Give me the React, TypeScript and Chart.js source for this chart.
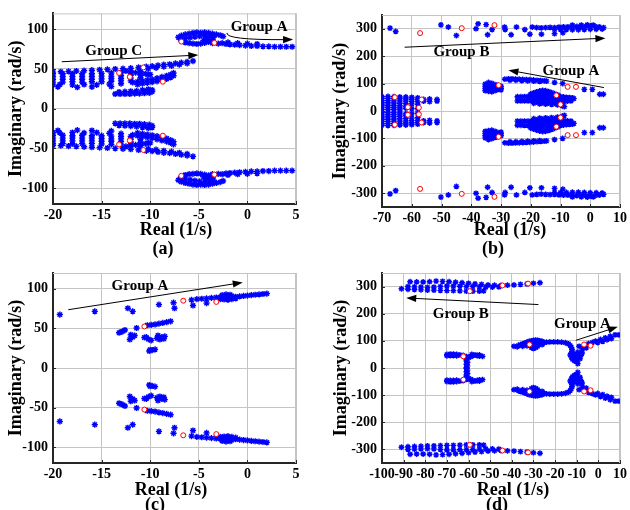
import React, { useEffect, useRef } from "react";
import { Chart, registerables } from "chart.js";

Chart.register(...registerables);

type Pt = [number, number];

// ---------------- Panel (a) : upper-half eigenvalues (conjugates added below)
const aStarsUpper: Pt[] = [
  // Group A loop + tail
  [-7.1, 90], [-6.8, 92], [-6.4, 93.5], [-6, 94.5], [-5.6, 95.5], [-5.2, 96], [-4.8, 95.5], [-4.4, 96], [-4, 95.5], [-3.6, 94.5], [-3.2, 93.5], [-2.8, 92.5], [-2.5, 91],
  [-6.9, 87.5], [-6.4, 88.5], [-5.9, 89.5], [-5.4, 90.5], [-4.9, 91.5], [-4.4, 92], [-3.9, 91], [-3.5, 90], [-4.2, 88], [-4.5, 86], [-4, 85], [-3.6, 87],
  [-6.4, 83.5], [-6, 82.5], [-5.6, 82], [-5.2, 81.5], [-4.8, 82], [-4.4, 83], [-4, 84], [-3.6, 82.5], [-3, 82], [-2.6, 82.5], [-2.2, 81.5], [-1.8, 81], [-1.3, 80.5], [-0.8, 80], [-0.2, 79.5], [0.4, 79], [1, 79], [1.6, 78.5], [2.2, 78.5], [2.8, 78], [3.4, 78], [4, 78], [4.6, 78],
  [-2, 83.5], [-1, 82.5], [0, 82], [1, 81.5],
  // Group C line
  [-20, 46], [-19.2, 46.5], [-18.4, 47], [-17.6, 47.5], [-16.8, 48], [-16, 48.5], [-15.2, 49], [-14.4, 49.5], [-13.6, 50], [-12.8, 50.5], [-12, 51], [-11.2, 52], [-10.4, 53], [-9.8, 53.5], [-9.2, 54.5], [-8.6, 55.5], [-8, 56], [-7.4, 57], [-6.8, 58], [-6.2, 59], [-5.6, 60],
  [-11, 49.5], [-10.2, 50.5], [-9.4, 51.5], [-8.6, 53], [-7.8, 54], [-7, 55.5], [-6.2, 57],
  // dense cluster
  [-20, 44], [-19, 44], [-18, 44], [-17, 44], [-16, 44], [-15, 44.5], [-14, 45], [-13, 45.5], [-12, 46], [-11, 46.5],
  [-20, 40.5], [-19, 40.5], [-18, 40.5], [-17, 40.5], [-16, 40.5], [-15, 41], [-14, 41], [-13, 41.5], [-12, 42], [-11, 42.5], [-10.2, 43],
  [-20, 37], [-19, 37], [-18, 37], [-17, 37], [-16, 37], [-15, 37.5], [-14, 38], [-13, 38], [-12, 38.5], [-11, 39],
  [-20, 33.5], [-19, 33.5], [-18, 34], [-17, 33.5], [-16, 34], [-15, 34], [-14, 34.5], [-13, 35], [-12, 35],
  [-20, 30], [-19.3, 30.5], [-18, 30], [-16.8, 30.5], [-15.5, 30], [-14.2, 31], [-13, 31.5],
  [-19.5, 27.5], [-17.5, 27], [-16, 27.5], [-14, 28],
  // branch
  [-11.8, 33], [-11.3, 34], [-10.8, 35], [-10.3, 36], [-9.8, 37], [-9.3, 38.5], [-8.8, 40], [-8.3, 41.5], [-7.9, 43], [-7.6, 45],
  [-11.3, 30.5], [-10.8, 31.5], [-10.3, 32.5], [-9.8, 33.5], [-9.3, 34.5], [-8.8, 36], [-8.3, 37.5], [-7.9, 39.5], [-7.6, 41.5],
  [-12.5, 47.5], [-12, 46.5], [-11.5, 45.5], [-11, 45], [-10.5, 44], [-10, 43],
  // lower cluster
  [-13.6, 18.5], [-13.1, 18.5], [-12.6, 18.5], [-12.1, 18.5], [-11.6, 19], [-11.1, 19], [-10.6, 19.5], [-10.1, 20], [-9.8, 21.5], [-9.8, 23.5], [-10.2, 24.5], [-10.8, 23.5], [-11.4, 22.5], [-12, 22], [-12.6, 21.5], [-13.2, 21], [-11.5, 20.5], [-10.5, 22],
];
const aCirclesUpper: Pt[] = [[-6.8, 84.5], [-3.4, 83], [-13.2, 45], [-10.7, 52], [-12.1, 40], [-8.7, 34]];
const aXTicks = [-20, -15, -10, -5, 0, 5];
const aYTicks = [-100, -50, 0, 50, 100];

// ---------------- Panel (b)
const bStarsUpper: Pt[] = [
  // top band
  [-67.3, 302], [-65.4, 290], [-50.2, 314], [-47.7, 306], [-45, 275], [-38.4, 300], [-37.7, 318], [-35, 315], [-34.5, 278], [-33, 297], [-28.8, 306], [-28.6, 297], [-26.6, 278], [-24.8, 306], [-22, 297], [-20.3, 280], [-19.5, 306], [-16.4, 280], [-12, 282], [-9.2, 285],
  [-18, 304], [-16.5, 303], [-15, 304], [-13.5, 305], [-12, 304], [-10.5, 306], [-9, 307], [-7.5, 307], [-6, 308], [-4.5, 308], [-3, 308], [-1.5, 309], [0, 310], [1.5, 309], [3, 307], [4.5, 304],
  [-12, 298], [-10, 297], [-8, 297], [-6, 296], [-4, 296], [-2, 297], [0, 298], [2, 298], [4, 299],
  [-6, 313], [-3, 313], [-1, 314], [1, 313],
  // group A arc
  [-28.7, 116], [-27.5, 117], [-26.3, 117], [-25.1, 116.5], [-23.9, 116], [-22.7, 115], [-21.5, 114.5], [-20.3, 114], [-19.1, 113], [-17.9, 112], [-16.7, 111], [-15.5, 110], [-14.7, 109], [-12, 104], [-9.3, 100], [-2, 79], [0.7, 79], [3.2, 61], [4.4, 61],
  [-27, 112], [-25, 112], [-23, 111], [-21, 110], [-19, 109], [-17, 108],
  // block near -32
  [-35.3, 98], [-35.3, 90], [-35.3, 82], [-35.3, 74],
  [-34.2, 104], [-34.2, 96], [-34.2, 88], [-34.2, 80], [-34.2, 72],
  [-33.1, 101], [-33.1, 93], [-33.1, 85], [-33.1, 77], [-33.1, 70],
  [-32, 96], [-32, 88], [-32, 80], [-32, 74],
  [-31, 93], [-31, 86], [-31, 79],
  [-30, 90], [-30, 83], [-30, 77],
  // middle blob
  [-24.5, 52], [-23.3, 52], [-22.1, 52.5], [-20.9, 53], [-19.7, 53], [-18.5, 53.5], [-17.3, 54], [-16.1, 54], [-14.9, 54], [-13.7, 54], [-12.5, 54],
  [-24.5, 37], [-23.3, 37], [-22.1, 37], [-20.9, 37], [-19.7, 37], [-18.5, 37], [-17.3, 37], [-16.1, 36], [-14.9, 36], [-13.7, 36], [-12.5, 35], [-11.3, 34], [-10.1, 34], [-8.9, 35], [-7.7, 36], [-6.5, 37],
  [-11, 55], [-10, 53], [-9, 51], [-8, 50], [-7, 49], [-6, 48], [-5.5, 45], [-10.5, 46], [-9.5, 45], [-8.5, 44], [-7.5, 43], [-6.5, 42], [-9, 40], [-7, 40],
  [-20, 45], [-19, 45], [-18, 46], [-17, 46], [-16, 46], [-15, 46], [-14, 46], [-13, 46], [-12, 46],
  [-20, 62], [-19, 66], [-18, 70], [-17, 73], [-16, 75], [-15, 74], [-14, 71], [-13, 67], [-12, 63], [-11, 59],
  [-19, 58], [-17, 62], [-15, 64], [-13, 60], [-18, 55], [-14, 56], [-16, 58],
  [-19, 28], [-17, 26], [-15, 25], [-13, 24], [-11, 22], [-18, 32], [-16, 30], [-14, 29], [-12, 28], [-10, 26], [-9.5, 20], [-8.7, 16],
  // left cluster
  [-70, 52], [-68, 53], [-66, 52], [-64, 51], [-62, 51], [-60, 50], [-58, 48],
  [-70, 45], [-68, 45], [-66, 45], [-64, 45], [-62, 44], [-60, 43], [-58, 42], [-56, 42], [-54, 44], [-51.5, 42],
  [-70, 38], [-68, 38], [-66, 37], [-64, 37], [-62, 36], [-60, 35], [-58, 34], [-56, 36], [-54, 34], [-51.5, 36],
  [-70, 30], [-68, 30], [-66, 29], [-64, 28], [-62, 27], [-60, 26], [-58, 24],
  [-70, 22], [-68, 21], [-66, 20], [-64, 19], [-62, 17],
  [-70, 14], [-68, 13], [-66, 12], [-64, 11], [-62, 10], [-60, 9], [-58, 8],
  [-70, 6], [-68, 5], [-66, 5], [-64, 4],
];
const bCirclesUpper: Pt[] = [
  [-57.2, 284], [-43.2, 302], [-32.2, 313],
  [-11.4, 57], [-10, 24], [-30.8, 94], [-7.6, 88], [-4.8, 88],
  [-56.7, 42], [-57.6, 12], [-61.3, 14], [-65.7, 50],
];
const bXTicks = [-70, -60, -50, -40, -30, -20, -10, 0, 10];
const bYTicks = [-300, -200, -100, 0, 100, 200, 300];

// ---------------- Panel (c)
const cStarsUpper: Pt[] = [
  [-19.3, 67.5], [-15.7, 71.5], [-12.3, 75.5], [-11.8, 71.5], [-9.1, 80], [-7.6, 82.5], [-7.5, 75.5], [-5.75, 86], [-5.6, 79], [-4.2, 82],
  [-5.2, 87], [-4.7, 87.5], [-4.2, 88], [-3.7, 88.5], [-3.2, 89], [-2.8, 89.5], [-2.4, 90], [-2, 90.5], [-1.6, 91], [-1.2, 90], [-0.8, 90.5], [-0.4, 91], [0, 91.5], [0.4, 92], [0.8, 92.5], [1.2, 93], [1.6, 93.5], [2, 94],
  [-2.6, 92], [-2.2, 93], [-1.8, 92.5], [-2.4, 86.5], [-2, 86], [-1.6, 87], [-1.2, 88], [-2.8, 87],
  [-10.3, 54], [-9.9, 54.5], [-9.5, 55], [-9.1, 56], [-8.7, 57], [-8.3, 58], [-7.9, 59],
  [-13.2, 44.5], [-13, 45.5], [-12.8, 46.5], [-12.6, 48], [-11.4, 50.5], [-12, 42], [-11.8, 39], [-12.1, 36], [-11.6, 41], [-11.9, 40],
  [-10.4, 39], [-10.6, 38.5], [-10.2, 36.5], [-9.9, 35], [-9.2, 41], [-8.8, 39], [-8.6, 37], [-9, 36], [-8.5, 40], [-9.3, 37.5],
  [-10.1, 21.5], [-9.8, 22.5], [-9.5, 23.5], [-10, 23],
];
const cCirclesUpper: Pt[] = [[-10.6, 52.5], [-6.6, 85], [-3.2, 83.5]];
const cXTicks = [-20, -15, -10, -5, 0, 5];
const cYTicks = [-100, -50, 0, 50, 100];

// ---------------- Panel (d)
const dStarsUpper: Pt[] = [
  // group B band
  [-87, 318], [-84, 317], [-81, 317], [-78, 318], [-75, 320], [-72, 319], [-69, 318], [-66, 316], [-63, 314], [-60, 312], [-57, 310], [-54, 308], [-51, 306], [-48, 305], [-45, 304], [-42, 305], [-39, 306], [-36, 308], [-33, 310], [-30, 312], [-27, 314],
  [-91, 292], [-88, 290], [-85, 289], [-82, 288], [-79, 287], [-76, 287], [-73, 286], [-70, 285], [-67, 285], [-64, 284], [-61, 283], [-58, 283], [-55, 283], [-53, 284],
  [-88, 300], [-85, 299], [-82, 298], [-79, 297], [-76, 298], [-73, 300], [-70, 302], [-67, 302], [-64, 301], [-61, 300], [-58, 300], [-55, 299], [-52, 298], [-49, 298], [-46, 299],
  // middle cluster
  [-70, 50], [-68.5, 51], [-67, 51], [-65.5, 50], [-64, 48], [-62.5, 46], [-61, 42], [-60, 38], [-59, 42], [-58, 46], [-57, 48], [-56, 46], [-55, 44], [-53.5, 43],
  [-70, 45], [-68.5, 46], [-67, 46], [-65.5, 45], [-58.5, 50], [-55, 48],
  [-61, 32], [-61, 26], [-60.5, 20], [-61, 14], [-60.5, 8], [-61, 2],
  // group A
  [-39, 80], [-37.5, 78], [-37, 83], [-36, 86], [-35, 89], [-34, 92], [-33, 95], [-32, 98], [-31, 100], [-30, 102], [-29, 103], [-28, 102], [-27, 100], [-26, 98], [-35, 80], [-33, 82], [-31, 84], [-30, 92], [-29, 86], [-28, 80], [-29, 75], [-30, 72], [-31, 76], [-27, 91], [-26, 86], [-25, 93], [-32, 88], [-28, 95],
  [-24, 95], [-22.4, 96], [-20.6, 96], [-18.8, 96], [-17, 95], [-15.2, 93],
  [-13.8, 89], [-13, 83], [-12.5, 76], [-12.2, 69], [-12, 62], [-12.5, 55], [-13, 48], [-12.5, 41], [-11.5, 35], [-10.5, 29], [-10, 22], [-9.5, 16], [-11, 26], [-12, 32], [-9, 40], [-8, 47], [-7.5, 55], [-8.5, 34], [-10, 45], [-11, 50], [-9.5, 58], [-10.5, 38],
  [-8.9, 80], [-7.4, 70], [-5.6, 74], [-1.3, 99], [1, 105], [3.2, 111], [5.5, 117], [7.7, 122], [9.5, 122], [-4.5, 90], [-2.8, 94], [-0.3, 94], [2, 98], [4, 104], [6, 108],
];
const dCirclesUpper: Pt[] = [[-59.4, 283], [-44.3, 304], [-32.5, 311], [-62.4, 43], [-31.8, 86.5], [-6.6, 86.5], [-3.6, 82]];
const dXTicks = [-100, -90, -80, -70, -60, -50, -40, -30, -20, -10, 0, 10];
const dYTicks = [-300, -200, -100, 0, 100, 200, 300];

// eigenvalues come in conjugate pairs
const withConjugates = (pts: Pt[]): Pt[] => [...pts, ...pts.map(([re, im]) => [re, -im] as Pt)];
const toXY = (pts: Pt[]) => pts.map(([x, y]) => ({ x, y }));

interface Arrow { from: Pt; to: Pt; via?: Pt }
interface Note { text: string; at: Pt }
interface Panel {
  id: string;
  caption: string;
  box: { left: number; top: number; w: number; h: number };
  area: { left: number; top: number; right: number; bottom: number };
  xRange: [number, number];
  yRange: [number, number];
  xTicks: number[];
  yTicks: number[];
  stars: Pt[];
  circles: Pt[];
  arrows: Arrow[];
  notes: Note[];
  xTitle: [number, number];
  capPos: [number, number];
  yTitlePad: number;
  starR: number;
}

const panels: Panel[] = [
  {
    id: "a", caption: "(a)",
    box: { left: 0, top: 0, w: 315, h: 262 },
    area: { left: 53, top: 13, right: 296, bottom: 204 },
    xRange: [-20, 5], yRange: [-120, 120], xTicks: aXTicks, yTicks: aYTicks,
    stars: aStarsUpper, circles: aCirclesUpper,
    arrows: [
      { from: [-19.1, 59.1], to: [-5.05, 67.5] },
      { from: [-2.1, 95.5], via: [-2.3, 86.5], to: [4.7, 87] },
    ],
    notes: [{ text: "Group C", at: [-13.75, 72.7] }, { text: "Group A", at: [1.2, 103] }],
    xTitle: [176, 230], capPos: [163, 249], yTitlePad: 6, starR: 3.1,
  },
  {
    id: "b", caption: "(b)",
    box: { left: 315, top: 0, w: 315, h: 262 },
    area: { left: 67, top: 15, right: 308, bottom: 207 },
    xRange: [-70, 10], yRange: [-350, 350], xTicks: bXTicks, yTicks: bYTicks,
    stars: bStarsUpper, circles: bCirclesUpper,
    arrows: [
      { from: [-62.4, 232.5], to: [5.1, 265.6] },
      { from: [4.6, 85.4], to: [-27.5, 149] },
    ],
    notes: [{ text: "Group B", at: [-43.3, 213] }, { text: "Group A", at: [-6.5, 146.5] }],
    xTitle: [195, 230], capPos: [178, 249], yTitlePad: 15, starR: 2.9,
  },
  {
    id: "c", caption: "(c)",
    box: { left: 0, top: 250, w: 315, h: 260 },
    area: { left: 53, top: 23, right: 296, bottom: 213 },
    xRange: [-20, 5], yRange: [-120, 120], xTicks: cXTicks, yTicks: cYTicks,
    stars: cStarsUpper, circles: cCirclesUpper,
    arrows: [{ from: [-18.43, 73.6], to: [-0.48, 108] }],
    notes: [{ text: "Group A", at: [-11.05, 104] }],
    xTitle: [171, 240], capPos: [155, 255], yTitlePad: 6, starR: 3.1,
  },
  {
    id: "d", caption: "(d)",
    box: { left: 315, top: 250, w: 315, h: 260 },
    area: { left: 67, top: 23, right: 310, bottom: 213 },
    xRange: [-100, 10], yRange: [-350, 350], xTicks: dXTicks, yTicks: dYTicks,
    stars: dStarsUpper, circles: dCirclesUpper,
    arrows: [
      { from: [-27.7, 233.7], to: [-88.8, 258] },
      { from: [-10.4, 102], to: [9, 151.6] },
    ],
    notes: [{ text: "Group B", at: [-63.6, 200] }, { text: "Group A", at: [-7.35, 163] }],
    xTitle: [198, 240], capPos: [182, 255], yTitlePad: 16, starR: 2.9,
  },
];

const SERIF = '"Liberation Serif", "Times New Roman", serif';
const GRID = "#c4c4c4";
const AXIS = "#262626";

function drawArrow(ctx: CanvasRenderingContext2D, x1: number, y1: number, x2: number, y2: number, cx?: number, cy?: number) {
  const bx = cx ?? x1;
  const by = cy ?? y1;
  const ang = Math.atan2(y2 - by, x2 - bx);
  const L = 10;
  const W = 3.6;
  const ex = x2 - L * 0.8 * Math.cos(ang);
  const ey = y2 - L * 0.8 * Math.sin(ang);
  ctx.beginPath();
  ctx.moveTo(x1, y1);
  if (cx !== undefined && cy !== undefined) ctx.quadraticCurveTo(cx, cy, ex, ey);
  else ctx.lineTo(ex, ey);
  ctx.stroke();
  const c = Math.cos(ang);
  const s = Math.sin(ang);
  ctx.beginPath();
  ctx.moveTo(x2, y2);
  ctx.lineTo(x2 - L * c + W * s, y2 - L * s - W * c);
  ctx.lineTo(x2 - L * c - W * s, y2 - L * s + W * c);
  ctx.closePath();
  ctx.fill();
}

function makeDecor(p: Panel) {
  return {
    id: "decor_" + p.id,
    beforeDatasetsDraw(chart: any) {
      const { ctx, chartArea: a } = chart;
      ctx.save();
      ctx.strokeStyle = GRID;
      ctx.lineWidth = 1;
      ctx.beginPath();
      ctx.moveTo(a.left, a.top + 0.5);
      ctx.lineTo(a.right, a.top + 0.5);
      ctx.moveTo(a.right - 0.5, a.top);
      ctx.lineTo(a.right - 0.5, a.bottom);
      ctx.stroke();
      ctx.restore();
    },
    afterDraw(chart: any) {
      const { ctx, chartArea: a, scales } = chart;
      const xs = scales.x;
      const ys = scales.y;
      ctx.save();
      // inward tick marks
      ctx.strokeStyle = AXIS;
      ctx.lineWidth = 1;
      ctx.beginPath();
      p.xTicks.forEach((v) => {
        const x = Math.round(xs.getPixelForValue(v)) + 0.5;
        ctx.moveTo(x, a.bottom);
        ctx.lineTo(x, a.bottom - 3);
      });
      p.yTicks.forEach((v) => {
        const y = Math.round(ys.getPixelForValue(v)) + 0.5;
        ctx.moveTo(a.left, y);
        ctx.lineTo(a.left + 3, y);
      });
      ctx.stroke();
      // arrows
      ctx.strokeStyle = "#000";
      ctx.fillStyle = "#000";
      ctx.lineWidth = 1;
      p.arrows.forEach((ar) => {
        const x1 = xs.getPixelForValue(ar.from[0]);
        const y1 = ys.getPixelForValue(ar.from[1]);
        const x2 = xs.getPixelForValue(ar.to[0]);
        const y2 = ys.getPixelForValue(ar.to[1]);
        if (ar.via) {
          drawArrow(ctx, x1, y1, x2, y2, xs.getPixelForValue(ar.via[0]), ys.getPixelForValue(ar.via[1]));
        } else {
          drawArrow(ctx, x1, y1, x2, y2);
        }
      });
      // group labels
      ctx.font = `bold 15px ${SERIF}`;
      ctx.textAlign = "center";
      ctx.textBaseline = "middle";
      p.notes.forEach((n) => {
        ctx.fillText(n.text, xs.getPixelForValue(n.at[0]), ys.getPixelForValue(n.at[1]));
      });
      // x title and caption
      ctx.font = `bold 18px ${SERIF}`;
      ctx.fillText("Real (1/s)", p.xTitle[0], p.xTitle[1]);
      ctx.fillText(p.caption, p.capPos[0], p.capPos[1]);
      ctx.restore();
    },
  };
}

function PanelChart({ p }: { p: Panel }) {
  const ref = useRef<HTMLCanvasElement | null>(null);
  useEffect(() => {
    if (!ref.current) return;
    const tickFont = { family: SERIF, size: 14, weight: "bold" as const };
    const chart = new Chart(ref.current, {
      type: "scatter",
      data: {
        datasets: [
          {
            data: toXY(withConjugates(p.circles)),
            pointStyle: "circle",
            pointRadius: 2.5,
            borderColor: "#ff0000",
            backgroundColor: "#ffffff",
            borderWidth: 1,
            order: 1,
          },
          {
            data: toXY(withConjugates(p.stars)),
            pointStyle: "star",
            pointRadius: p.starR,
            borderColor: "#0000ff",
            backgroundColor: "#0000ff",
            borderWidth: 1.4,
            order: 2,
          },
        ],
      },
      options: {
        responsive: false,
        animation: false,
        devicePixelRatio: 1,
        events: [],
        layout: { padding: { top: p.area.top, right: p.box.w - p.area.right, bottom: 0, left: 0 } },
        plugins: { legend: { display: false }, tooltip: { enabled: false } },
        scales: {
          x: {
            type: "linear",
            min: p.xRange[0],
            max: p.xRange[1],
            afterBuildTicks: (s: any) => {
              s.ticks = p.xTicks.map((v) => ({ value: v }));
            },
            afterFit: (s: any) => {
              s.height = p.box.h - p.area.bottom;
            },
            grid: { color: GRID, lineWidth: 1, drawTicks: false },
            border: { display: true, color: AXIS, width: 2 },
            ticks: { font: tickFont, color: "#000", padding: 3, autoSkip: false, maxRotation: 0, minRotation: 0 },
          },
          y: {
            type: "linear",
            min: p.yRange[0],
            max: p.yRange[1],
            afterBuildTicks: (s: any) => {
              s.ticks = p.yTicks.map((v) => ({ value: v }));
            },
            afterFit: (s: any) => {
              s.width = p.area.left;
            },
            grid: { color: GRID, lineWidth: 1, drawTicks: false },
            border: { display: true, color: AXIS, width: 2 },
            ticks: { font: tickFont, color: "#000", padding: 5, autoSkip: false },
            title: {
              display: true,
              text: "Imaginary (rad/s)",
              color: "#000",
              font: { family: SERIF, size: 18, weight: "bold" as const },
              padding: { top: p.yTitlePad, bottom: 0 },
            },
          },
        },
      },
      plugins: [makeDecor(p)],
    } as any);
    return () => chart.destroy();
  }, [p]);
  return (
    <canvas
      ref={ref}
      width={p.box.w}
      height={p.box.h}
      style={{ position: "absolute", left: p.box.left, top: p.box.top, width: p.box.w, height: p.box.h }}
    />
  );
}

export default function App() {
  return (
    <div style={{ position: "absolute", left: 0, top: 0, width: 630, height: 510, background: "#fff", overflow: "hidden" }}>
      {panels.map((p) => (
        <PanelChart key={p.id} p={p} />
      ))}
    </div>
  );
}
